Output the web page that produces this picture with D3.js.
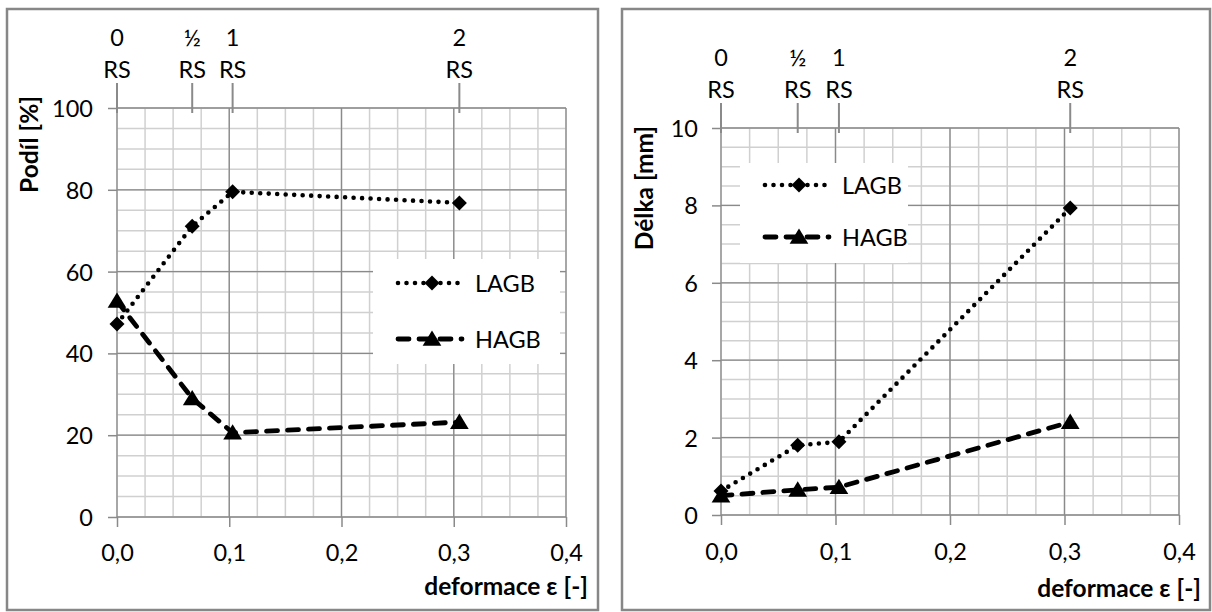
<!DOCTYPE html>
<html>
<head>
<meta charset="utf-8">
<script src="https://cdn.jsdelivr.net/npm/d3@7"></script>
<style>
  body { margin: 0; background: #fff; }
  text { font-family: Lato, "Open Sans", sans-serif; fill: #000; }
</style>
</head>
<body>
<svg id="chart" width="1212" height="612"></svg>
<script>
// data
var strain = [0, 0.067, 0.103, 0.305]
var rsLabels = ["0", "½", "1", "2"]
var podilLAGB = [47.2, 71.1, 79.5, 76.8]
var podilHAGB = [52.8, 29.0, 20.6, 23.2]
var delkaLAGB = [0.62, 1.8, 1.89, 7.93]
var delkaHAGB = [0.5, 0.65, 0.72, 2.4]
var xTicks = [0, 0.1, 0.2, 0.3, 0.4]
var podilTicks = [0, 20, 40, 60, 80, 100]
var delkaTicks = [0, 2, 4, 6, 8, 10]
var seriesNames = ["LAGB", "HAGB"]

var svg = d3.select("#chart")
var comma = d3.formatLocale({decimal: ",", thousands: " ", grouping: [3], currency: ["", ""]})

var minorColor = "#d0d0d0"
var majorColor = "#8a8a8a"
var fontSize = "23.5px"

function diamond(s) {
    return `M0,${-s}L${s},0L0,${s}L${-s},0Z`
}
function triangle(s) {
    return `M0,${-s}L${s * 1.1},${s * 0.8}L${-s * 1.1},${s * 0.8}Z`
}

function drawChart(cfg) {
    var g = svg.append("g")

    // outer frame
    g.append("rect")
        .attr("x", cfg.box[0]).attr("y", cfg.box[1])
        .attr("width", cfg.box[2]).attr("height", cfg.box[3])
        .attr("fill", "#fff").attr("stroke", "#878787").attr("stroke-width", 2.5)

    var xScale = d3.scaleLinear().domain([0, 0.4]).range([cfg.left, cfg.right])
    var yScale = d3.scaleLinear().domain([0, cfg.yMax]).range([cfg.bottom, cfg.top])

    // minor grid
    var minorX = d3.range(0, 0.4001, 0.025)
    var minorY = d3.range(0, cfg.yMax + 0.0001, cfg.yMinor)
    g.selectAll(".mx").data(minorX).enter().append("line")
        .attr("x1", d => xScale(d)).attr("x2", d => xScale(d))
        .attr("y1", cfg.top).attr("y2", cfg.bottom)
        .attr("stroke", minorColor).attr("stroke-width", 1.5)
    g.selectAll(".my").data(minorY).enter().append("line")
        .attr("y1", d => yScale(d)).attr("y2", d => yScale(d))
        .attr("x1", cfg.left).attr("x2", cfg.right)
        .attr("stroke", minorColor).attr("stroke-width", 1.5)

    // major grid
    g.selectAll(".gx").data(xTicks).enter().append("line")
        .attr("x1", d => xScale(d)).attr("x2", d => xScale(d))
        .attr("y1", cfg.top).attr("y2", cfg.bottom)
        .attr("stroke", majorColor).attr("stroke-width", 1.3)
    g.selectAll(".gy").data(cfg.yTicks).enter().append("line")
        .attr("y1", d => yScale(d)).attr("y2", d => yScale(d))
        .attr("x1", cfg.left).attr("x2", cfg.right)
        .attr("stroke", majorColor).attr("stroke-width", 1.3)

    // axes
    var xAxis = g.append("g")
        .attr("transform", `translate(0,${cfg.bottom})`)
        .call(d3.axisBottom(xScale).tickValues(xTicks).tickSize(10).tickPadding(cfg.xPad)
            .tickFormat(comma.format(".1f")))
    var yAxis = g.append("g")
        .attr("transform", `translate(${cfg.left},0)`)
        .call(d3.axisLeft(yScale).tickValues(cfg.yTicks).tickSize(9).tickPadding(cfg.yPad))
    g.selectAll(".domain").remove()
    g.selectAll(".tick line").attr("stroke", majorColor).attr("stroke-width", 1.5)
    g.selectAll(".tick text").style("font-size", fontSize).attr("fill", "#000")
    yAxis.selectAll(".tick text").attr("dy", "0.36em")

    // top (RS) axis
    var top = g.append("g")
    top.selectAll("line").data(strain).enter().append("line")
        .attr("x1", d => xScale(d)).attr("x2", d => xScale(d))
        .attr("y1", cfg.top - 25).attr("y2", cfg.top + 5)
        .attr("stroke", majorColor).attr("stroke-width", 2)
    top.selectAll(".n").data(strain).enter().append("text")
        .attr("x", d => xScale(d)).attr("y", cfg.top - 62)
        .attr("text-anchor", "middle").style("font-size", fontSize)
        .text((d, i) => rsLabels[i])
    top.selectAll(".rs").data(strain).enter().append("text")
        .attr("x", d => xScale(d)).attr("y", cfg.top - 30)
        .attr("text-anchor", "middle").style("font-size", fontSize)
        .text("RS")

    // axis titles
    g.append("text")
        .attr("x", cfg.right + 22).attr("y", cfg.xTitleY)
        .attr("text-anchor", "end")
        .style("font-size", "24.5px").style("font-weight", "bold")
        .text("deformace ε [-]")
    g.append("text")
        .attr("transform", `translate(${cfg.yTitle[0]},${cfg.yTitle[1]}) rotate(-90)`)
        .attr("text-anchor", "end")
        .style("font-size", "24.5px").style("font-weight", "bold")
        .text(cfg.yLabel)

    // legend box (covers the grid)
    var lg = g.append("g")
    lg.append("rect")
        .attr("x", cfg.legend[0]).attr("y", cfg.legend[1])
        .attr("width", cfg.legend[2]).attr("height", cfg.legend[3])
        .attr("fill", "#fff")

    // series
    var styles = [
        {dash: "0 8.5", width: 4.6, marker: diamond(7.5)},
        {dash: "11 10", width: 4.8, marker: triangle(8.5)}
    ]
    var line = d3.line().x(d => xScale(d[0])).y(d => yScale(d[1]))

    cfg.series.forEach(function(vals, k) {
        var pts = strain.map((s, i) => [s, vals[i]])
        g.append("path")
            .datum(pts)
            .attr("d", line)
            .attr("fill", "none").attr("stroke", "#000")
            .attr("stroke-width", styles[k].width)
            .attr("stroke-linecap", "round")
            .attr("stroke-dasharray", styles[k].dash)
        g.selectAll(".m" + k).data(pts).enter().append("path")
            .attr("transform", d => `translate(${xScale(d[0])},${yScale(d[1])})`)
            .attr("d", styles[k].marker)
            .attr("fill", "#000")

        // legend entry
        var ly = cfg.legendRows[k]
        var lx = cfg.legend[0] + 25
        lg.append("line")
            .attr("x1", lx).attr("x2", lx + 64)
            .attr("y1", ly).attr("y2", ly)
            .attr("stroke", "#000").attr("stroke-width", styles[k].width)
            .attr("stroke-linecap", "round")
            .attr("stroke-dasharray", styles[k].dash)
        lg.append("path")
            .attr("transform", `translate(${lx + 34},${ly})`)
            .attr("d", styles[k].marker)
            .attr("fill", "#000")
        lg.append("text")
            .attr("x", lx + 77).attr("y", ly + 8.5)
            .style("font-size", fontSize)
            .text(seriesNames[k])
    })
}

drawChart({
    box: [7, 9, 591, 601],
    left: 117, right: 566, top: 108, bottom: 517,
    yMax: 100, yMinor: 5, yTicks: podilTicks,
    xPad: 17, yPad: 15,
    xTitleY: 595,
    yTitle: [38, 96], yLabel: "Podíl [%]",
    legend: [373, 259, 187, 105], legendRows: [283, 339],
    series: [podilLAGB, podilHAGB]
})

drawChart({
    box: [622, 9, 588, 601],
    left: 721, right: 1179, top: 128, bottom: 515,
    yMax: 10, yMinor: 0.5, yTicks: delkaTicks,
    xPad: 18, yPad: 14,
    xTitleY: 597,
    yTitle: [653, 126], yLabel: "Délka [mm]",
    legend: [740, 163, 168, 100], legendRows: [185, 237],
    series: [delkaLAGB, delkaHAGB]
})
</script>
</body>
</html>
